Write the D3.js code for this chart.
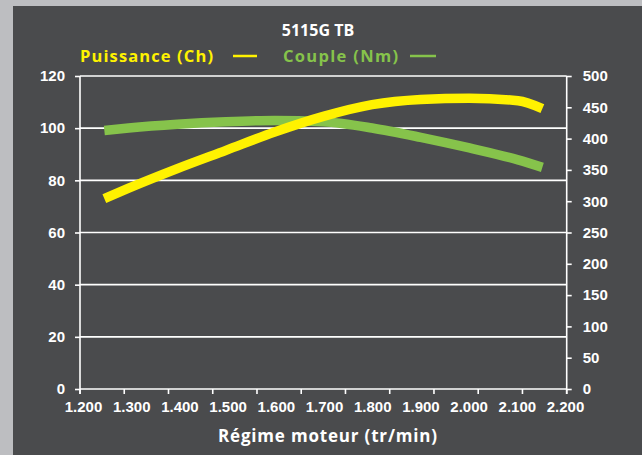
<!DOCTYPE html>
<html>
<head>
<meta charset="utf-8">
<script src="https://cdn.jsdelivr.net/npm/d3@7"></script>
<style>
  body { margin: 0; background: #bdbec1; }
  svg { display: block; font-family: "Open Sans", sans-serif; font-weight: bold; }
</style>
</head>
<body>
<svg id="chart" width="642" height="455"></svg>
<script>
// valeurs
const rpm = [1250, 1300, 1400, 1500, 1600, 1700, 1800, 1900, 2000, 2100, 2150]
const puissance = [73, 77, 84.5, 91.5, 98.5, 104.5, 109, 111, 111.5, 110.5, 107.5]
const couple = [413, 417, 423, 427, 429, 427, 417, 402, 385, 366, 354]
const rpmTicks = [1200, 1300, 1400, 1500, 1600, 1700, 1800, 1900, 2000, 2100, 2200]
const leftTicks = [0, 20, 40, 60, 80, 100, 120]
const rightTicks = [0, 50, 100, 150, 200, 250, 300, 350, 400, 450, 500]

const svg = d3.select("#chart")
const plotL = 80, plotR = 566.7, plotT = 76, plotB = 389

svg.append("rect").attr("x", 13).attr("y", 6).attr("width", 629).attr("height", 449).attr("fill", "#4a4b4d")

const x = d3.scaleLinear().domain([1200, 2200]).range([plotL, plotR])
const yL = d3.scaleLinear().domain([0, 120]).range([plotB, plotT])
const yR = d3.scaleLinear().domain([0, 500]).range([plotB, plotT])

// grille
svg.append("g").selectAll("line").data(leftTicks.slice(1)).join("line")
  .attr("x1", plotL).attr("x2", plotR)
  .attr("y1", d => yL(d)).attr("y2", d => yL(d))
  .attr("stroke", "#fff").attr("stroke-width", 1.6)

// axe gauche
const axL = svg.append("g").attr("transform", `translate(${plotL},0)`)
  .call(d3.axisLeft(yL).tickValues(leftTicks).tickSize(5).tickPadding(10))
axL.select(".domain").attr("stroke", "#fff").attr("stroke-width", 1.6).attr("d", `M0,${plotT}V${plotB + 5}`)
axL.selectAll(".tick line").attr("stroke", "#fff").attr("stroke-width", 1.6)
axL.selectAll("text").attr("fill", "#fff").attr("font-size", 15).attr("font-family", null)

// axe droit
const axR = svg.append("g").attr("transform", `translate(${plotR},0)`)
  .call(d3.axisRight(yR).tickValues(rightTicks).tickSize(5).tickPadding(11))
axR.select(".domain").attr("stroke", "#fff").attr("stroke-width", 1.6).attr("d", `M0,${plotT}V${plotB + 5}`)
axR.selectAll(".tick line").attr("stroke", "#fff").attr("stroke-width", 1.6)
axR.selectAll("text").attr("fill", "#fff").attr("font-size", 15).attr("font-family", null)

// axe bas : traits (12) et libellés (11) ne tombent pas au même endroit dans l'original
const xMarks = d3.scalePoint().domain(d3.range(12)).range([plotL, plotR])
svg.append("line").attr("x1", plotL).attr("x2", plotR).attr("y1", plotB).attr("y2", plotB)
  .attr("stroke", "#fff").attr("stroke-width", 1.6)
svg.append("g").selectAll("line").data(xMarks.domain()).join("line")
  .attr("x1", d => xMarks(d)).attr("x2", d => xMarks(d))
  .attr("y1", plotB).attr("y2", plotB + 5)
  .attr("stroke", "#fff").attr("stroke-width", 1.6)

const xLab = d3.scaleLinear().domain([1200, 2200]).range([83, 565])
const axB = svg.append("g").attr("transform", `translate(0,${plotB})`)
  .call(d3.axisBottom(xLab).tickValues(rpmTicks).tickSize(0).tickPadding(12)
    .tickFormat(d => d3.format(".3f")(d / 1000)))
axB.select(".domain").remove()
axB.selectAll("text").attr("fill", "#fff").attr("font-size", 15).attr("font-family", null)

// courbes
const lineP = d3.line().x((d, i) => x(rpm[i])).y(d => yL(d)).curve(d3.curveMonotoneX)
const lineC = d3.line().x((d, i) => x(rpm[i])).y(d => yR(d)).curve(d3.curveMonotoneX)

svg.append("path").datum(couple).attr("d", lineC)
  .attr("fill", "none").attr("stroke", "#86c34b").attr("stroke-width", 9.5)
svg.append("path").datum(puissance).attr("d", lineP)
  .attr("fill", "none").attr("stroke", "#fff200").attr("stroke-width", 9.5)

// titres
svg.append("text").attr("x", 318).attr("y", 36).attr("text-anchor", "middle")
  .attr("fill", "#fff").attr("font-size", 16).text("5115G TB")

svg.append("text").attr("x", 80).attr("y", 62).attr("fill", "#fff200").attr("font-size", 16.5)
  .attr("textLength", 133).attr("lengthAdjust", "spacing").text("Puissance (Ch)")
svg.append("line").attr("x1", 233).attr("x2", 257).attr("y1", 56).attr("y2", 56).attr("stroke", "#fff200").attr("stroke-width", 2.5)
svg.append("text").attr("x", 283).attr("y", 62).attr("fill", "#86c34b").attr("font-size", 16.5)
  .attr("textLength", 115).attr("lengthAdjust", "spacing").text("Couple (Nm)")
svg.append("line").attr("x1", 410).attr("x2", 436).attr("y1", 56).attr("y2", 56).attr("stroke", "#86c34b").attr("stroke-width", 2.5)

svg.append("text").attr("x", 218).attr("y", 442).attr("fill", "#fff").attr("font-size", 17)
  .attr("textLength", 219).attr("lengthAdjust", "spacing").text("Régime moteur (tr/min)")
</script>
</body>
</html>
